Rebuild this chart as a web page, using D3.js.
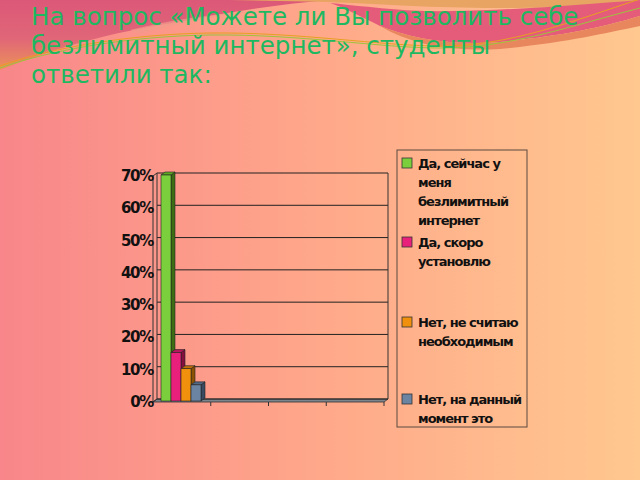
<!DOCTYPE html>
<html>
<head>
<meta charset="utf-8">
<script src="https://cdn.jsdelivr.net/npm/d3@7"></script>
<style>
  body { margin: 0; overflow: hidden; }
</style>
</head>
<body>
<div class="slide"></div>
<script>
// --- data ---
const titleLines = [
    'На вопрос «Можете ли Вы позволить себе',
    'безлимитный интернет», студенты',
    'ответили так:'
];
const seriesNames = [
    ['Да, сейчас у', 'меня', 'безлимитный', 'интернет'],
    ['Да, скоро', 'установлю'],
    ['Нет, не считаю', 'необходимым'],
    ['Нет, на данный', 'момент это']
];
const seriesValues = [0.70, 0.15, 0.10, 0.05];
const seriesColors = ['#7ccf3c', '#e8207c', '#f0900c', '#6a84a2'];
const sideColors = ['#3e6e14', '#84103e', '#8c5204', '#3a4a60'];
const topColors = ['#5ea824', '#b8165e', '#c07008', '#506a86'];
const yTicks = [0, 0.1, 0.2, 0.3, 0.4, 0.5, 0.6, 0.7];
const categorySlots = [0, 1, 2, 3]; // only the first slot carries data

const width = 640;
const height = 480;

const svg = d3.select('.slide')
    .append('svg')
    .attr('width', width)
    .attr('height', height);

// background
const defs = svg.append('defs');
const bg = defs.append('linearGradient').attr('id', 'bg').attr('x1', 0).attr('x2', 1).attr('y1', 0).attr('y2', 0);
bg.append('stop').attr('offset', 0).attr('stop-color', '#f8868a');
bg.append('stop').attr('offset', 0.5).attr('stop-color', '#ffa88a');
bg.append('stop').attr('offset', 1).attr('stop-color', '#ffc88f');

const band = defs.append('linearGradient').attr('id', 'band').attr('x1', 0).attr('x2', 0).attr('y1', 0).attr('y2', 1);
band.append('stop').attr('offset', 0).attr('stop-color', '#dc5878');
band.append('stop').attr('offset', 0.55).attr('stop-color', '#e06678');
band.append('stop').attr('offset', 1).attr('stop-color', '#ec9258');

svg.append('rect')
    .attr('width', width)
    .attr('height', height)
    .attr('fill', 'url(#bg)');

// decorative waves at the top
svg.append('path')
    .attr('d', 'M0,0 L330,0 C280,4 230,12 190,20 C140,28 80,38 0,70 Z')
    .attr('fill', 'url(#band)');
svg.append('path')
    .attr('d', 'M130,30 C170,20 210,14 250,12 C200,18 170,26 140,34 Z')
    .attr('fill', '#f29a8c')
    .attr('opacity', 0.7);
svg.append('path')
    .attr('d', 'M230,0 L640,0 L640,2 C600,6 560,8 500,8 C430,8 380,4 330,2 Z')
    .attr('fill', '#e8a462');
svg.append('path')
    .attr('d', 'M330,3 C380,8 410,12 450,11 C520,10 590,4 640,0 L640,16 C600,28 560,36 500,42 C450,46 410,38 380,26 C360,16 345,8 330,3 Z')
    .attr('fill', '#e45c7a');
svg.append('path')
    .attr('d', 'M380,26 C410,38 450,46 500,42 C560,36 600,28 640,16 L640,26 C600,34 570,42 500,49 C450,52 410,44 380,26 Z')
    .attr('fill', '#e8865e');
svg.append('path')
    .attr('d', 'M0,66 C50,48 130,34 210,33 C300,32 380,46 440,46 C510,46 570,22 640,-1')
    .attr('fill', 'none')
    .attr('stroke', '#e8a020')
    .attr('stroke-width', 1);
svg.append('path')
    .attr('d', 'M0,68 C50,50 130,36 210,35 C300,34 380,48 440,48 C510,48 570,26 640,8')
    .attr('fill', 'none')
    .attr('stroke', '#9cc43c')
    .attr('stroke-width', 1);

// title
svg.append('text')
    .attr('font-family', 'DejaVu Sans')
    .attr('font-size', 24.5)
    .attr('fill', '#1db860')
    .selectAll('tspan')
    .data(titleLines)
    .enter()
    .append('tspan')
    .attr('x', 31)
    .attr('y', (d, i) => 25 + i * 29)
    .text(d => d);

// --- chart ---
const plot = { left: 157, right: 388, top: 173, bottom: 399 };
const depth = { dx: 4, dy: 3 };

const yScale = d3.scaleLinear()
    .domain([0, 0.7])
    .range([plot.bottom, plot.top]);

const xScale = d3.scaleBand()
    .domain(categorySlots)
    .range([plot.left, plot.right]);

const inner = d3.scaleBand()
    .domain(d3.range(seriesValues.length))
    .range([4, 44]);

const chart = svg.append('g');

// floor
chart.append('polygon')
    .attr('points', [
        [plot.left, plot.bottom],
        [plot.right, plot.bottom],
        [plot.right - depth.dx, plot.bottom + depth.dy],
        [plot.left - depth.dx, plot.bottom + depth.dy]
    ].join(' '))
    .attr('fill', '#7c848c')
    .attr('stroke', '#333')
    .attr('stroke-width', 0.8);

// grid lines on back wall
chart.selectAll('.grid')
    .data(yTicks)
    .enter()
    .append('line')
    .attr('class', 'grid')
    .attr('x1', plot.left)
    .attr('x2', plot.right)
    .attr('y1', d => yScale(d))
    .attr('y2', d => yScale(d))
    .attr('stroke', '#222')
    .attr('stroke-width', 1);

// right edge of wall
chart.append('line')
    .attr('x1', plot.right).attr('x2', plot.right)
    .attr('y1', plot.top).attr('y2', plot.bottom)
    .attr('stroke', '#333');

// left wall
chart.append('polygon')
    .attr('points', [
        [plot.left, plot.top],
        [plot.left, plot.bottom],
        [plot.left - depth.dx, plot.bottom + depth.dy],
        [plot.left - depth.dx, plot.top + depth.dy]
    ].join(' '))
    .attr('fill', 'none')
    .attr('stroke', '#333')
    .attr('stroke-width', 1);

// y ticks and labels
chart.selectAll('.ytick')
    .data(yTicks)
    .enter()
    .append('line')
    .attr('x1', plot.left - depth.dx)
    .attr('x2', plot.left - depth.dx - 3)
    .attr('y1', d => yScale(d) + depth.dy)
    .attr('y2', d => yScale(d) + depth.dy)
    .attr('stroke', '#333');

chart.selectAll('.ylabel')
    .data(yTicks)
    .enter()
    .append('text')
    .attr('x', plot.left - depth.dx)
    .attr('y', d => yScale(d) + depth.dy + 5)
    .attr('text-anchor', 'end')
    .attr('font-family', 'DejaVu Sans')
    .attr('font-weight', 'bold')
    .attr('font-size', 15)
    .attr('letter-spacing', -1.3)
    .attr('fill', '#111')
    .text(d => d3.format('.0%')(d));

// category ticks on the floor front edge
chart.selectAll('.xtick')
    .data(categorySlots)
    .enter()
    .append('line')
    .attr('x1', d => xScale(d) + xScale.bandwidth() - depth.dx)
    .attr('x2', d => xScale(d) + xScale.bandwidth() - depth.dx)
    .attr('y1', plot.bottom + depth.dy)
    .attr('y2', plot.bottom + depth.dy + 4)
    .attr('stroke', '#333');

// 3D bars (all in the first category slot)
const bars = chart.selectAll('.bar')
    .data(seriesValues)
    .enter()
    .append('g')
    .attr('class', 'bar');

const base = plot.bottom + 2;
const bx = (d, i) => xScale(categorySlots[0]) + inner(i);
const bw = inner.bandwidth();
const btop = d => yScale(d) + 2;

bars.append('polygon')
    .attr('points', (d, i) => [
        [bx(d, i) + bw, btop(d)],
        [bx(d, i) + bw + depth.dx, btop(d) - depth.dy],
        [bx(d, i) + bw + depth.dx, base - depth.dy],
        [bx(d, i) + bw, base]
    ].join(' '))
    .attr('fill', (d, i) => sideColors[i])
    .attr('stroke', '#222')
    .attr('stroke-width', 0.6);

bars.append('polygon')
    .attr('points', (d, i) => [
        [bx(d, i), btop(d)],
        [bx(d, i) + depth.dx, btop(d) - depth.dy],
        [bx(d, i) + bw + depth.dx, btop(d) - depth.dy],
        [bx(d, i) + bw, btop(d)]
    ].join(' '))
    .attr('fill', (d, i) => topColors[i])
    .attr('stroke', '#222')
    .attr('stroke-width', 0.6);

bars.append('rect')
    .attr('x', (d, i) => bx(d, i))
    .attr('y', d => btop(d))
    .attr('width', bw)
    .attr('height', d => base - btop(d))
    .attr('fill', (d, i) => seriesColors[i])
    .attr('stroke', '#222')
    .attr('stroke-width', 0.6);

// legend
const legendBox = { x: 397, y: 150, w: 130, h: 277 };
const legendY = [163, 242, 322, 399];

defs.append('clipPath')
    .attr('id', 'legendClip')
    .append('rect')
    .attr('x', legendBox.x)
    .attr('y', legendBox.y)
    .attr('width', legendBox.w)
    .attr('height', legendBox.h);

svg.append('rect')
    .attr('x', legendBox.x)
    .attr('y', legendBox.y)
    .attr('width', legendBox.w)
    .attr('height', legendBox.h)
    .attr('fill', 'none')
    .attr('stroke', '#5a4a40')
    .attr('stroke-width', 1);

const legend = svg.append('g')
    .attr('clip-path', 'url(#legendClip)')
    .selectAll('.legend')
    .data(seriesNames)
    .enter()
    .append('g')
    .attr('class', 'legend')
    .attr('transform', (d, i) => `translate(0,${legendY[i]})`);

legend.append('rect')
    .attr('x', 402)
    .attr('y', -5)
    .attr('width', 10)
    .attr('height', 10)
    .attr('fill', (d, i) => seriesColors[i])
    .attr('stroke', '#333')
    .attr('stroke-width', 0.8);

legend.append('text')
    .attr('font-family', 'DejaVu Sans')
    .attr('font-weight', 'bold')
    .attr('font-size', 13)
    .attr('letter-spacing', -1)
    .attr('fill', '#111')
    .selectAll('tspan')
    .data(d => d)
    .enter()
    .append('tspan')
    .attr('x', 418)
    .attr('y', (d, i) => 5 + i * 19)
    .text(d => d);
</script>
</body>
</html>
